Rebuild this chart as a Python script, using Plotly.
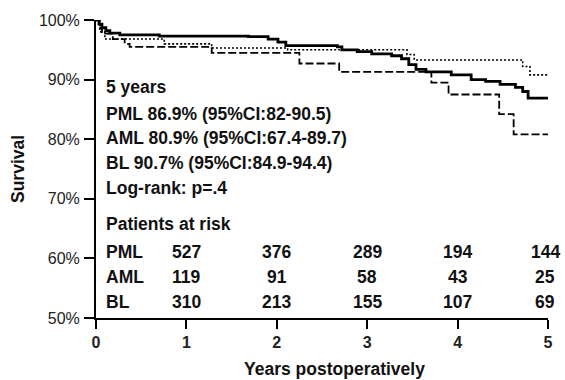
import plotly.graph_objects as go

# ---- data ----
pml_t = [0, 0.033, 0.066, 0.109, 0.153, 0.263, 0.70, 1.685, 1.904, 2.013, 2.10, 2.67, 2.72, 2.89, 3.05,
         3.27, 3.38, 3.46, 3.54, 3.65, 3.93, 4.15, 4.31, 4.47, 4.64, 4.72, 4.78, 5.0]
pml_s = [100, 99.3, 98.7, 98.2, 97.8, 97.5, 97.3, 97.2, 96.8, 96.3, 95.7, 95.5, 95.0, 94.7, 94.3,
         94.0, 93.5, 92.5, 91.7, 91.3, 90.8, 90.0, 89.7, 89.2, 88.7, 88.0, 86.9, 86.9]

aml_t = [0, 0.033, 0.066, 0.186, 0.317, 0.372, 1.28, 2.25, 2.69, 3.71, 3.90, 4.46, 4.62, 5.0]
aml_s = [100, 98.7, 97.7, 96.8, 96.0, 95.5, 94.5, 92.7, 91.3, 89.5, 87.5, 84.2, 80.8, 80.8]

bl_t = [0, 0.044, 0.098, 0.755, 1.28, 2.12, 3.44, 3.52, 4.72, 4.80, 5.0]
bl_s = [100, 98.0, 96.8, 96.0, 95.3, 95.0, 94.2, 93.3, 92.2, 90.8, 90.8]

risk_years = [1, 2, 3, 4, 5]
risk_groups = ["PML", "AML", "BL"]
risk_pml = [527, 376, 289, 194, 144]
risk_aml = [119, 91, 58, 43, 25]
risk_bl = [310, 213, 155, 107, 69]

y_ticks = [50, 60, 70, 80, 90, 100]
y_tick_labels = ["50%", "60%", "70%", "80%", "90%", "100%"]
x_ticks = [0, 1, 2, 3, 4, 5]

info_lines = ["5 years",
              "PML 86.9% (95%CI:82-90.5)",
              "AML 80.9% (95%CI:67.4-89.7)",
              "BL 90.7% (95%CI:84.9-94.4)",
              "Log-rank: p=.4",
              "Patients at risk"]
info_y = [88.7, 84.3, 80.2, 76.0, 71.8, 65.7]
row_y = [61.05, 56.9, 52.7]

FONT = "Liberation Sans, Arial, sans-serif"
TXT = dict(family=FONT, size=17.5, color="#111", weight="bold")

fig = go.Figure()
fig.add_trace(go.Scatter(x=bl_t, y=bl_s, mode="lines", line_shape="hv",
                         line=dict(color="black", width=1.6, dash="2px,2px"), name="BL"))
fig.add_trace(go.Scatter(x=aml_t, y=aml_s, mode="lines", line_shape="hv",
                         line=dict(color="black", width=1.8, dash="8px,3px"), name="AML"))
fig.add_trace(go.Scatter(x=pml_t, y=pml_s, mode="lines", line_shape="hv",
                         line=dict(color="black", width=2.8), name="PML"))

ann = []
for txt, yy in zip(info_lines, info_y):
    ann.append(dict(x=0.09, y=yy, xref="x", yref="y", text=txt, showarrow=False,
                    xanchor="left", yanchor="middle", font=TXT))
for grp, vals, yy in zip(risk_groups, [risk_pml, risk_aml, risk_bl], row_y):
    ann.append(dict(x=0.09, y=yy, xref="x", yref="y", text=grp, showarrow=False,
                    xanchor="left", yanchor="middle", font=TXT))
    for xv, v in zip(risk_years, vals):
        ann.append(dict(x=xv, y=yy, xref="x", yref="y", text=str(v), showarrow=False,
                        xanchor="center", yanchor="middle", xshift=(-3 if xv == 5 else 0),
                        font=TXT))
# axis titles
ann.append(dict(x=0.527, y=0, xref="paper", yref="paper", yshift=-51, text="Years postoperatively",
                showarrow=False, xanchor="center", yanchor="middle", font=TXT))
ann.append(dict(x=0, y=0.5, xref="paper", yref="paper", xshift=-78, text="Survival", textangle=-90,
                showarrow=False, xanchor="center", yanchor="middle", font=TXT))

fig.update_layout(
    width=565, height=380,
    margin=dict(l=96, r=12, t=18, b=62),
    paper_bgcolor="white", plot_bgcolor="white",
    showlegend=False,
    annotations=ann,
    xaxis=dict(range=[0, 5], tickvals=x_ticks, showgrid=False, zeroline=False,
               showline=True, linecolor="black", linewidth=2,
               ticks="outside", ticklen=9, tickwidth=2, tickcolor="black",
               tickfont=dict(family=FONT, size=16, color="#222", weight="bold")),
    yaxis=dict(range=[50, 100], tickvals=y_ticks, ticktext=y_tick_labels, showgrid=False,
               zeroline=False, showline=True, linecolor="black", linewidth=2,
               ticks="outside", ticklen=10, tickwidth=2, tickcolor="black",
               ticklabelstandoff=1,
               tickfont=dict(family=FONT, size=16, color="#222")),
)

# remove the default 8px page margin so the figure fills the window exactly
fig.write_html(
    "out.html",
    config={"displayModeBar": False},
    post_script="document.body.style.margin='0';"
                "document.body.style.overflow='hidden';"
                "document.documentElement.style.overflow='hidden';",
)
